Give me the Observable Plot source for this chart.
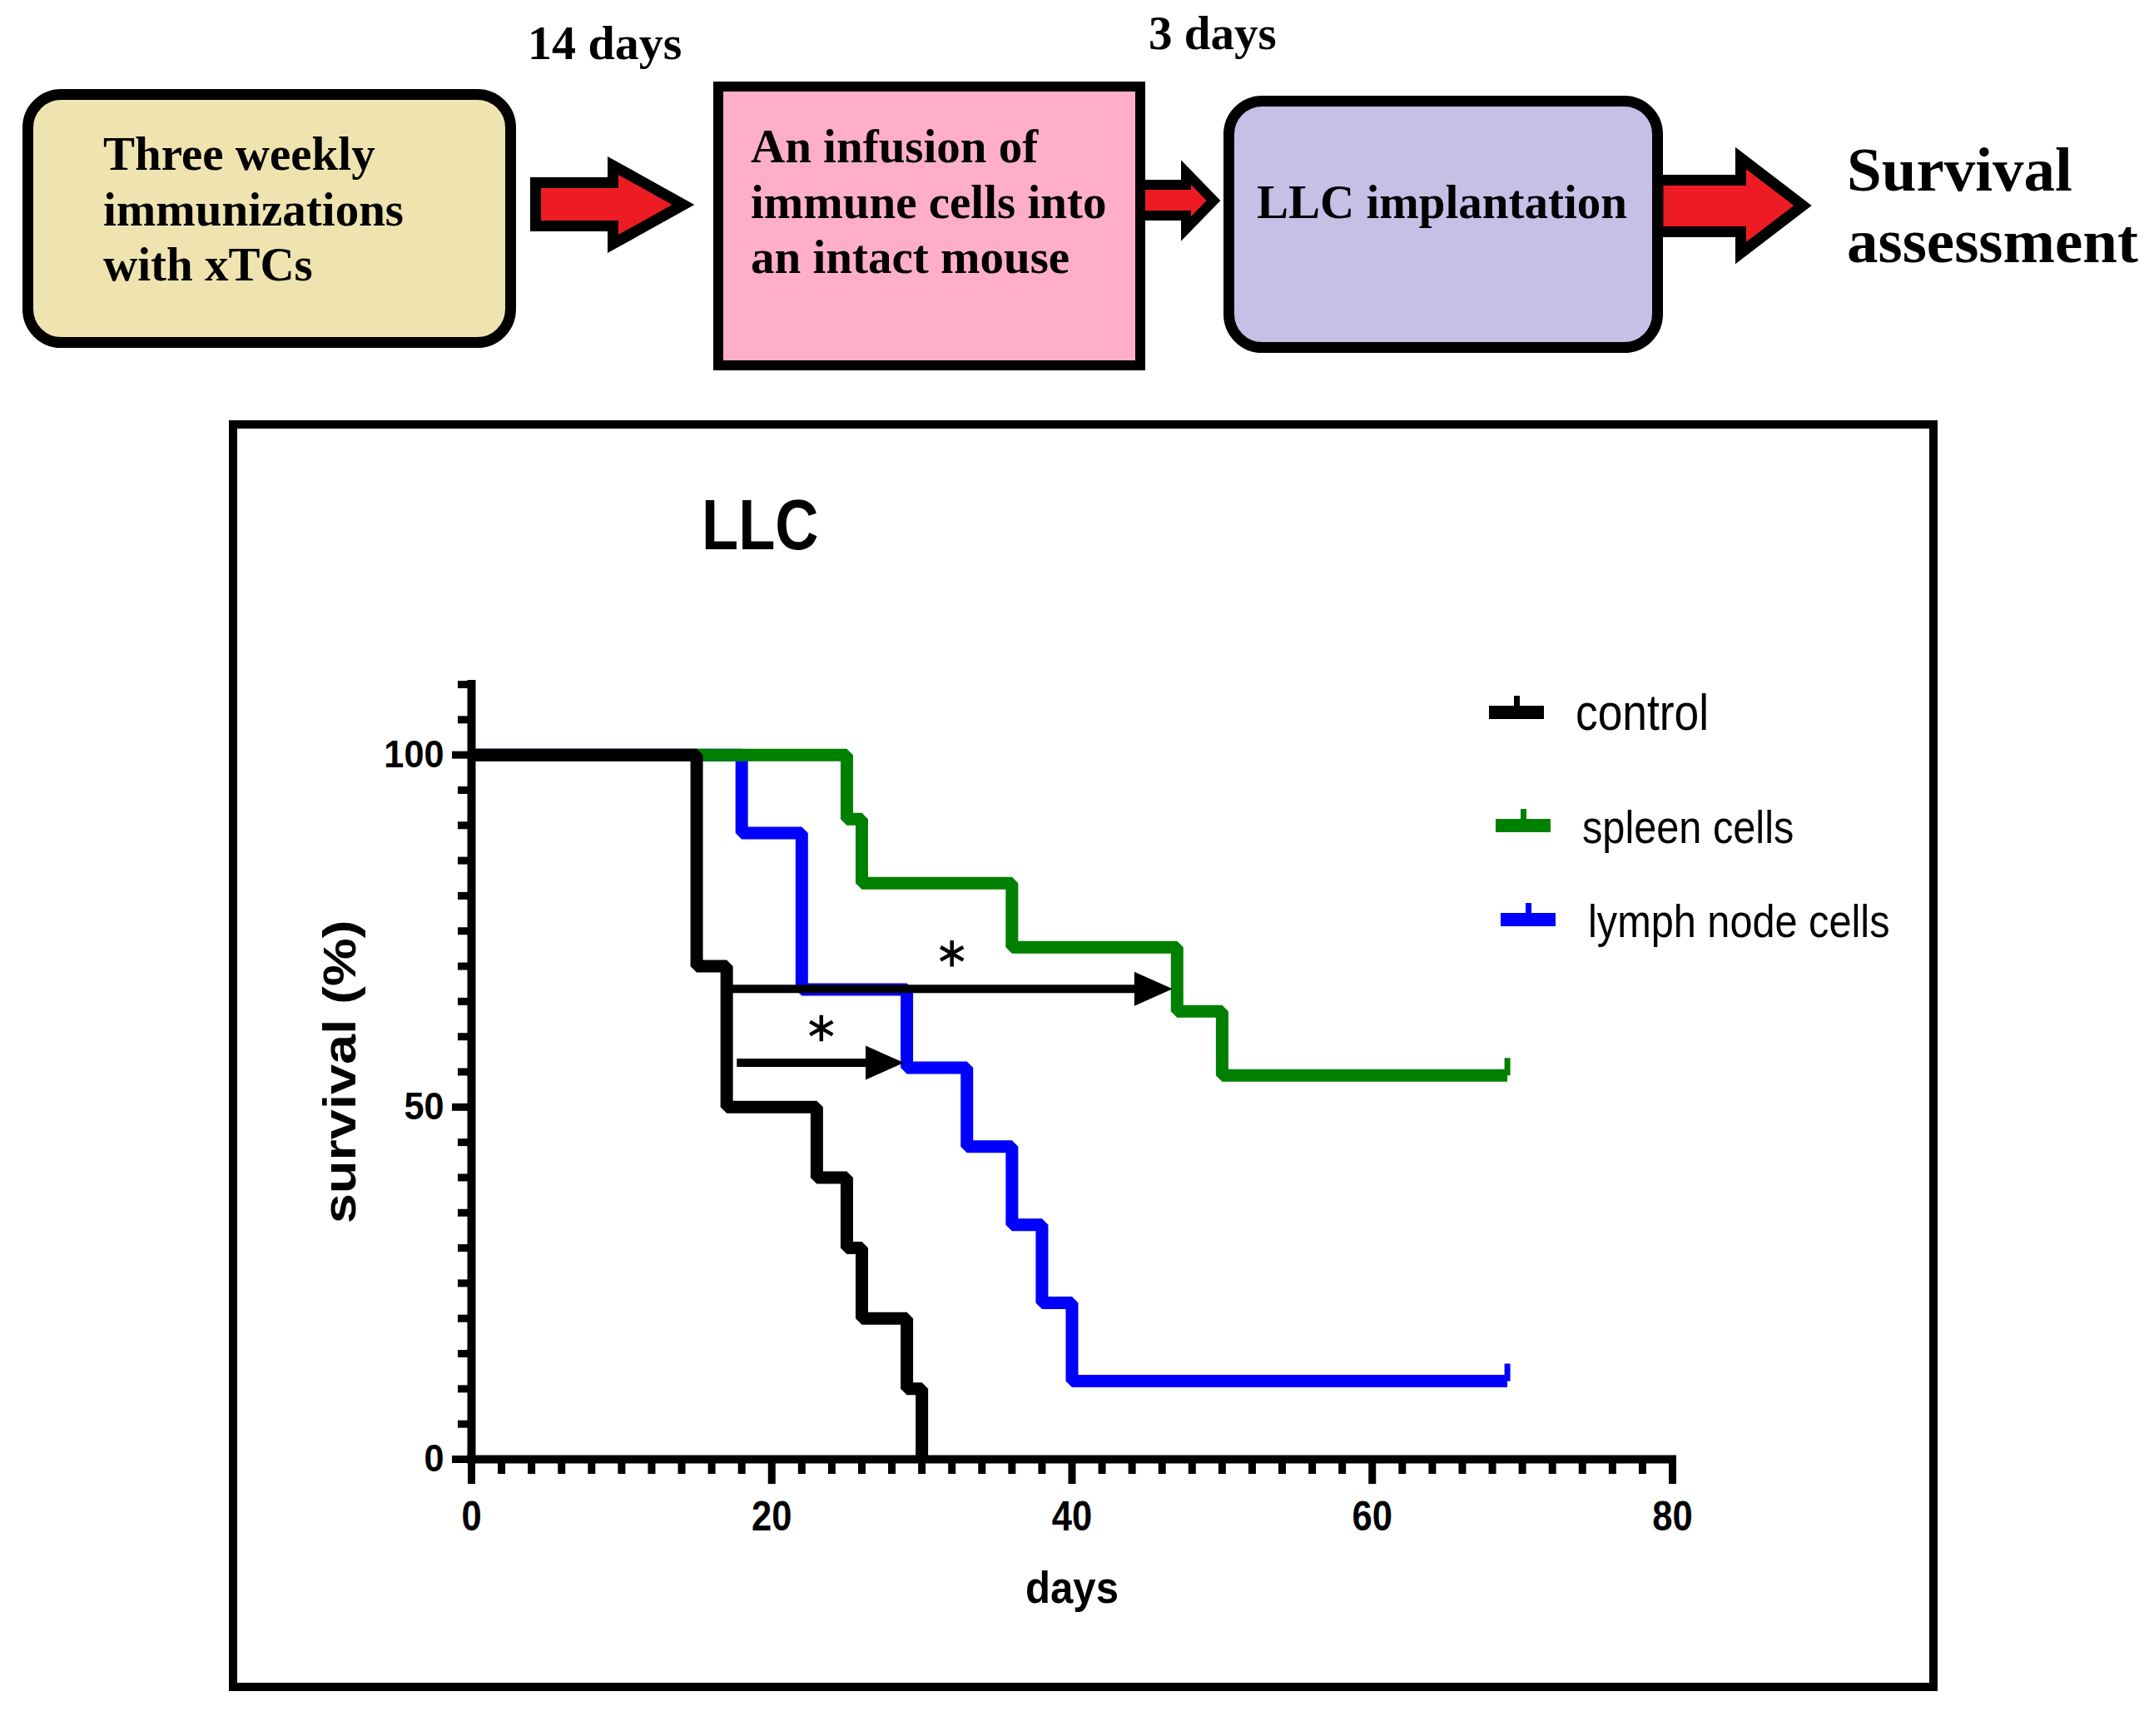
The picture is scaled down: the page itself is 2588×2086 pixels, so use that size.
<!DOCTYPE html>
<html>
<head>
<meta charset="utf-8">
<script src="https://cdn.jsdelivr.net/npm/d3@7"></script>
<script src="https://cdn.jsdelivr.net/npm/@observablehq/plot@0.6"></script>
<style>
html, body { margin: 0; padding: 0; background: #fff; }
#page { position: relative; width: 2588px; height: 2086px; overflow: hidden; background: #fff; }
#frame { position: absolute; left: 275px; top: 505px; width: 2053px; height: 1527px; border: 10px solid #000; box-sizing: border-box; }
#chart { position: absolute; left: 0; top: 505px; width: 2588px; height: 1527px; }
svg.overlay { position: absolute; left: 0; top: 0; }
</style>
</head>
<body>
<div id="page">
  <svg class="overlay" id="diagram" width="2588" height="480"></svg>
  <div id="frame"></div>
  <div id="chart"></div>
  <svg class="overlay" id="annot" width="2588" height="2086"></svg>
</div>
<script>
// ---------------- data ----------------
const seriesNames = ["control", "spleen cells", "lymph node cells"];
const seriesColors = ["#000000", "#008000", "#0000ff"];

const controlDays = [0, 15, 17, 23, 25, 26, 29, 30];
const controlSurvival = [100, 70, 50, 40, 30, 20, 10, 0];
const spleenDays = [0, 25, 26, 36, 47, 50, 69];
const spleenSurvival = [100, 90.9, 81.8, 72.7, 63.6, 54.5, 54.5];
const lymphDays = [0, 18, 22, 29, 33, 36, 38, 40, 69];
const lymphSurvival = [100, 88.9, 66.7, 55.6, 44.4, 33.3, 22.2, 11.1, 11.1];
const censorDay = [null, 69, 69];

const xMajorTicks = [0, 20, 40, 60, 80];
const xMinorTicks = [2, 4, 6, 8, 10, 12, 14, 16, 18, 22, 24, 26, 28, 30, 32, 34, 36, 38,
  42, 44, 46, 48, 50, 52, 54, 56, 58, 62, 64, 66, 68, 70, 72, 74, 76, 78];
const yMajorTicks = [0, 50, 100];
const yMinorTicks = [5, 10, 15, 20, 25, 30, 35, 40, 45, 55, 60, 65, 70, 75, 80, 85, 90, 95, 105, 110];

const comparisonFrom = [17.4, 17.7];
const comparisonTo = [46.7, 28.8];
const comparisonAt = [66.8, 56.3];
const starDay = [32.0, 23.3];
const starSurvival = [71.8, 61.2];

const chartTitle = "LLC";
const xLabel = "days";
const yLabel = "survival (%)";

const box1Lines = ["Three weekly", "immunizations", "with xTCs"];
const box2Lines = ["An infusion of", "immune cells into", "an intact mouse"];
const box3Lines = ["LLC implantation"];
const gapLabels = ["14 days", "3 days"];
const outcomeLines = ["Survival", "assessment"];

// ---------------- tables ----------------
const seriesDays = [controlDays, spleenDays, lymphDays];
const seriesSurv = [controlSurvival, spleenSurvival, lymphSurvival];
const curves = seriesNames.map((name, k) => ({
  name, color: seriesColors[k],
  pts: seriesDays[k].map((d, i) => ({day: d, survival: seriesSurv[k][i]})),
  censor: censorDay[k] == null ? [] : [{day: censorDay[k], survival: seriesSurv[k][seriesSurv[k].length - 1]}]
}));
const arrows = comparisonFrom.map((f, i) => ({from: f, to: comparisonTo[i], at: comparisonAt[i]}));
const stars = starDay.map((d, i) => ({day: d, survival: starSurvival[i]}));

// ---------------- chart ----------------
const sansFont = "'Liberation Sans', Arial, Helvetica, sans-serif";
const censorSym = {draw(ctx) { ctx.moveTo(0, 0); ctx.lineTo(0, -21); }};
const headSym = {draw(ctx) { ctx.moveTo(0, 0); ctx.lineTo(-46, -20.5); ctx.lineTo(-46, 20.5); ctx.closePath(); }};

const marks = [];
for (const s of [curves[2], curves[1], curves[0]]) {
  marks.push(Plot.line(s.pts, {x: "day", y: "survival", curve: "step-after", stroke: s.color,
    strokeWidth: 15, strokeLinejoin: "miter", strokeLinecap: "butt"}));
  if (s.censor.length) marks.push(Plot.dot(s.censor, {x: "day", y: "survival", symbol: censorSym,
    stroke: s.color, fill: "none", strokeWidth: 7}));
}
marks.push(
  Plot.ruleY([0], {stroke: "black", strokeWidth: 10, strokeLinecap: "square"}),
  Plot.ruleX([0], {stroke: "black", strokeWidth: 10, strokeLinecap: "square"}),
  Plot.axisY({ticks: yMinorTicks, tickSize: 16, strokeWidth: 9, stroke: "black", fill: null, label: null}),
  Plot.axisY({ticks: yMajorTicks, tickSize: 23, tickPadding: 10, strokeWidth: 9, stroke: "black", fill: "black",
    fontSize: 46, fontWeight: "bold", fontFamily: sansFont, label: null}),
  Plot.axisX({ticks: xMinorTicks, tickSize: 18, strokeWidth: 9, stroke: "black", fill: null, label: null}),
  Plot.axisX({ticks: xMajorTicks, tickSize: 30, tickPadding: 20, strokeWidth: 9, stroke: "black", fill: "black",
    fontSize: 50, fontWeight: "bold", fontFamily: sansFont, label: null}),
  Plot.text([xLabel], {frameAnchor: "bottom", dy: 134, lineAnchor: "top", fontSize: 54, fontWeight: "bold",
    fontFamily: sansFont, fill: "black"}),
  Plot.text([yLabel], {frameAnchor: "left", dx: -157, rotate: -90, textAnchor: "middle", lineAnchor: "middle",
    fontSize: 56, fontWeight: "bold", fontFamily: sansFont, fill: "black"}),
  Plot.ruleY(arrows, {x1: "from", x2: "to", y: "at", stroke: "black", strokeWidth: 10, insetRight: 30}),
  Plot.dot(arrows, {x: "to", y: "at", symbol: headSym, fill: "black", stroke: "none"}),
  Plot.dot(stars, {x: "day", y: "survival", symbol: "asterisk", r: 14.9, stroke: "black", fill: "none", strokeWidth: 4.5})
);

const chartEl = Plot.plot({
  width: 2588, height: 1527,
  marginLeft: 566, marginRight: 579, marginTop: 317, marginBottom: 279,
  x: {domain: [0, 80], label: null},
  y: {domain: [0, 110], label: null},
  style: {background: "transparent", maxWidth: "none", fontFamily: sansFont, color: "black", overflow: "visible"},
  marks
});
document.getElementById("chart").appendChild(chartEl);

// horizontal squeeze/stretch of text glyphs around their anchor, keeping em line offsets
function scaleTexts(nodes, sx) {
  nodes.forEach(t => {
    let tr = t.getAttribute("transform") || "";
    let px = 0, py = 0, moved = false;
    for (const a of ["x", "y"]) {
      const v = t.getAttribute(a);
      if (v != null && !/em/.test(v) && !isNaN(+v)) {
        if (a === "x") px = +v; else py = +v;
        t.removeAttribute(a); moved = true;
      }
    }
    if (moved) tr = `translate(${px},${py}) ` + tr;
    t.setAttribute("transform", tr + ` scale(${sx},1)`);
  });
}
const allTexts = [...chartEl.querySelectorAll("text")];
scaleTexts([...chartEl.querySelectorAll('[aria-label="x-axis tick label"] text')], 0.87);
scaleTexts([...chartEl.querySelectorAll('[aria-label="y-axis tick label"] text')], 0.94);
scaleTexts(allTexts.filter(t => t.textContent === xLabel), 0.91);
scaleTexts(allTexts.filter(t => t.textContent === yLabel), 1.16);

// ---------------- title & legend ----------------
const annot = d3.select("#annot");
annot.append("text").attr("transform", "translate(843,660) scale(0.85,1)")
  .attr("font-family", sansFont).attr("font-weight", "bold").attr("font-size", 85).attr("fill", "black")
  .text(chartTitle);

const legendLayout = [
  {barX: 1789, barY: 856, tickX: 1822.5, textX: 1893, baseline: 877, size: 61, sx: 0.875},
  {barX: 1797, barY: 992, tickX: 1830.5, textX: 1901, baseline: 1013, size: 55, sx: 0.885},
  {barX: 1803, barY: 1105, tickX: 1836.5, textX: 1908, baseline: 1126, size: 55, sx: 0.885}
];
seriesNames.forEach((name, i) => {
  const L = legendLayout[i];
  annot.append("rect").attr("x", L.barX).attr("y", L.barY - 8).attr("width", 66).attr("height", 16).attr("fill", seriesColors[i]);
  annot.append("rect").attr("x", L.tickX - 3.5).attr("y", L.barY - 20).attr("width", 7).attr("height", 13).attr("fill", seriesColors[i]);
  annot.append("text").attr("transform", `translate(${L.textX},${L.baseline}) scale(${L.sx},1)`)
    .attr("font-family", sansFont).attr("font-size", L.size).attr("fill", "black").text(name);
});

// ---------------- flow diagram ----------------
const dg = d3.select("#diagram");
const serif = "'Liberation Serif', 'Times New Roman', serif";
const red = "#ED1C24";
function arrow(points, sw) {
  dg.append("polygon").attr("points", points.map(p => p.join(",")).join(" "))
    .attr("fill", red).attr("stroke", "black").attr("stroke-width", sw).attr("stroke-linejoin", "miter");
}
arrow([[643.5,219.5],[736.5,219.5],[736.5,199],[821,246],[736.5,293],[736.5,271.5],[643.5,271.5]], 13);
arrow([[1370,222],[1425,222],[1425,207],[1458,241],[1425,275],[1425,259],[1370,259]], 12);
arrow([[1992,216.5],[2091.5,216.5],[2091.5,190],[2166,247],[2091.5,304],[2091.5,278.5],[1992,278.5]], 13);

dg.append("rect").attr("x", 33.5).attr("y", 113.5).attr("width", 580).attr("height", 298).attr("rx", 40).attr("ry", 40)
  .attr("fill", "#EFE4B0").attr("stroke", "black").attr("stroke-width", 13);
dg.append("rect").attr("x", 863).attr("y", 104).attr("width", 507).attr("height", 335)
  .attr("fill", "#FFAEC9").attr("stroke", "black").attr("stroke-width", 12);
dg.append("rect").attr("x", 1476.5).attr("y", 121.5).attr("width", 515).attr("height", 296).attr("rx", 40).attr("ry", 40)
  .attr("fill", "#C8BFE7").attr("stroke", "black").attr("stroke-width", 13);

function serifText(str, x, y, size) {
  dg.append("text").attr("x", x).attr("y", y).attr("font-family", serif).attr("font-weight", "bold")
    .attr("font-size", size).attr("fill", "black").text(str);
}
box1Lines.forEach((s, i) => serifText(s, 124, 204 + i * 66.5, 57));
box2Lines.forEach((s, i) => serifText(s, 902, 195 + i * 66.5, 57));
box3Lines.forEach((s, i) => serifText(s, 1510, 262 + i * 66.5, 57));
serifText(gapLabels[0], 634, 71, 58);
serifText(gapLabels[1], 1380, 59, 57);
outcomeLines.forEach((s, i) => serifText(s, 2219, 229 + i * 86, 75));
</script>
</body>
</html>
